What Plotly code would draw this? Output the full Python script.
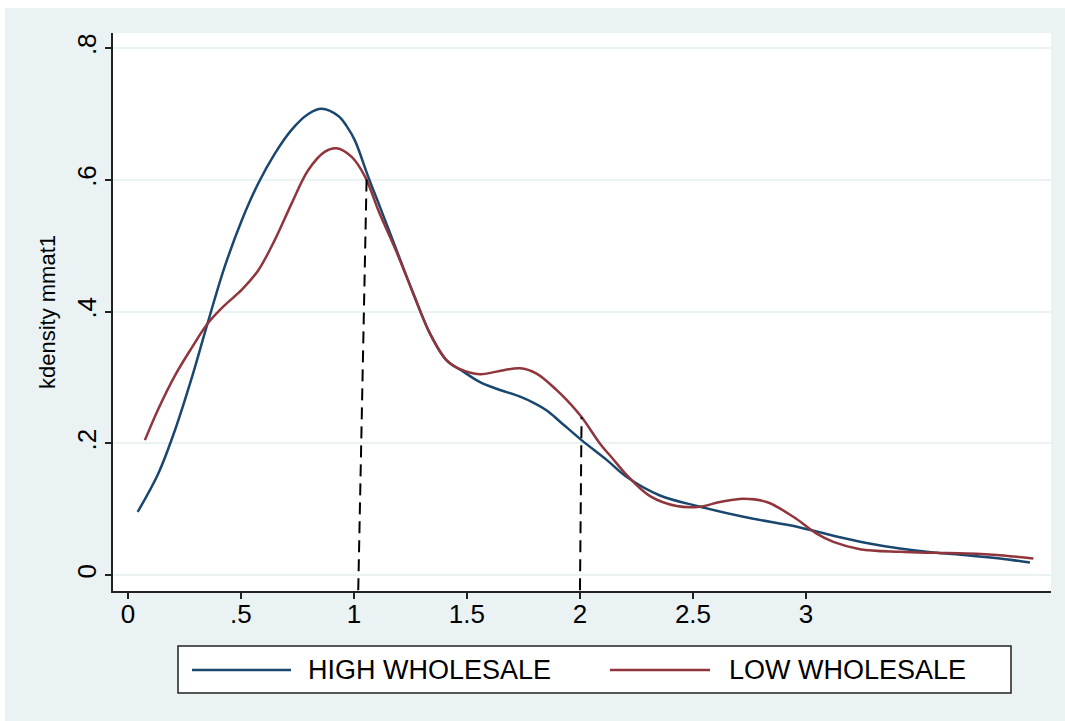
import plotly.graph_objects as go

# ---- data ----
high_x = [0.043, 0.134, 0.208, 0.282, 0.353, 0.429, 0.503, 0.577, 0.650, 0.724,
          0.798, 0.857, 0.931, 0.967, 1.004, 1.063, 1.115, 1.189, 1.262, 1.336, 1.410,
          1.484, 1.558, 1.631, 1.735, 1.793, 1.853, 1.912, 2.007, 2.118, 2.207, 2.354,
          2.531, 2.723, 2.973, 3.121, 3.268, 3.416, 3.563, 3.711, 3.858, 3.991]
high_y = [0.096, 0.154, 0.220, 0.299, 0.383, 0.469, 0.538, 0.595, 0.640, 0.676,
          0.700, 0.708, 0.697, 0.682, 0.660, 0.605, 0.559, 0.493, 0.428, 0.367, 0.326,
          0.309, 0.293, 0.283, 0.271, 0.262, 0.250, 0.233, 0.205, 0.175, 0.149, 0.121,
          0.104, 0.0886, 0.0725, 0.0600, 0.0490, 0.0405, 0.0344, 0.0304, 0.0253, 0.0192]

low_x = [0.075, 0.134, 0.208, 0.282, 0.353, 0.429, 0.503, 0.577, 0.650, 0.724,
         0.798, 0.872, 0.923, 0.990, 1.049, 1.110, 1.189, 1.262, 1.336, 1.410,
         1.462, 1.558, 1.631, 1.735, 1.808, 1.897, 1.941, 2.007, 2.088, 2.147,
         2.207, 2.310, 2.428, 2.531, 2.619, 2.723, 2.826, 2.944, 3.047, 3.121,
         3.239, 3.416, 3.563, 3.711, 3.858, 4.006]
low_y = [0.205, 0.252, 0.303, 0.345, 0.382, 0.410, 0.433, 0.463, 0.509, 0.564,
         0.615, 0.643, 0.648, 0.635, 0.605, 0.552, 0.490, 0.428, 0.367, 0.326,
         0.314, 0.305, 0.309, 0.314, 0.306, 0.281, 0.266, 0.240, 0.200, 0.176,
         0.152, 0.120, 0.105, 0.104, 0.111, 0.116, 0.111, 0.0886, 0.063, 0.0506,
         0.0395, 0.0354, 0.0339, 0.0329, 0.0304, 0.0253]

drop1_x = [1.019, 1.056]
drop1_y = [-0.023, 0.602]
drop2_x = [2.000, 2.007]
drop2_y = [-0.023, 0.240]

x_ticks = [0, 0.5, 1, 1.5, 2, 2.5, 3]
x_labels = ["0", ".5", "1", "1.5", "2", "2.5", "3"]
y_ticks = [0, 0.2, 0.4, 0.6, 0.8]
y_labels = ["0", ".2", ".4", ".6", ".8"]

series_names = ["HIGH WHOLESALE", "LOW WHOLESALE"]
y_title = "kdensity mmat1"

NAVY = "#1A476F"
MAROON = "#90353B"
BG = "#EAF2F3"
FONT = "Liberation Sans, Arial, sans-serif"

fig = go.Figure()
fig.add_trace(go.Scatter(x=high_x, y=high_y, mode="lines", name=series_names[0],
                         line=dict(color=NAVY, width=2.5, shape="spline", smoothing=1.0),
                         showlegend=False))
fig.add_trace(go.Scatter(x=low_x, y=low_y, mode="lines", name=series_names[1],
                         line=dict(color=MAROON, width=2.5, shape="spline", smoothing=1.0),
                         showlegend=False))
for dx, dy in [(drop1_x, drop1_y), (drop2_x, drop2_y)]:
    fig.add_trace(go.Scatter(x=dx, y=dy, mode="lines", showlegend=False,
                             line=dict(color="black", width=2, dash="12px,7px")))

# geometry helpers (pixel -> paper)
L, R, T, B = 113, 14, 33, 130
W, H = 1065, 721
PW, PH = W - L - R, H - T - B


def px(xp):
    return (xp - L) / PW


def py(yp):
    return (H - B - yp) / PH


shapes = [
    # white page strips outside the graph region
    dict(type="rect", xref="paper", yref="paper", x0=px(-5), x1=px(W + 5), y0=py(8), y1=py(-5),
         fillcolor="white", line=dict(width=0), layer="below"),
    dict(type="rect", xref="paper", yref="paper", x0=px(-5), x1=px(5), y0=py(H + 5), y1=py(-5),
         fillcolor="white", line=dict(width=0), layer="below"),
    # legend box
    dict(type="rect", xref="paper", yref="paper", x0=px(178), x1=px(1011), y0=py(693), y1=py(646),
         fillcolor="white", line=dict(color="#222", width=1.5)),
    dict(type="line", xref="paper", yref="paper", x0=px(192), x1=px(291), y0=py(670), y1=py(670),
         line=dict(color=NAVY, width=2.5)),
    dict(type="line", xref="paper", yref="paper", x0=px(610), x1=px(710), y0=py(670), y1=py(670),
         line=dict(color=MAROON, width=2.5)),
]

annotations = [
    dict(xref="paper", yref="paper", x=px(306), y=py(670), text=series_names[0],
         showarrow=False, xanchor="left", yanchor="middle",
         font=dict(family=FONT, size=27, color="black")),
    dict(xref="paper", yref="paper", x=px(727), y=py(670), text=series_names[1],
         showarrow=False, xanchor="left", yanchor="middle",
         font=dict(family=FONT, size=27, color="black")),
]

fig.update_layout(
    width=W, height=H,
    margin=dict(l=L, r=R, t=T, b=B),
    paper_bgcolor=BG, plot_bgcolor="white",
    font=dict(family=FONT, size=25, color="black"),
    shapes=shapes, annotations=annotations,
    showlegend=False,
)
fig.update_xaxes(range=[-0.066, 4.084], tickvals=x_ticks, ticktext=x_labels,
                 showgrid=False, zeroline=False, showline=True, linecolor="#222", linewidth=1.5,
                 ticks="outside", ticklen=6, tickwidth=1.5, tickcolor="#222",
                 ticklabelstandoff=-7,
                 tickfont=dict(family=FONT, size=26, color="black"))
fig.update_yaxes(range=[-0.024, 0.823], tickvals=y_ticks, ticktext=y_labels,
                 showgrid=True, gridcolor=BG, gridwidth=2, zeroline=False,
                 showline=True, linecolor="#222", linewidth=1.5,
                 ticks="outside", ticklen=6, tickwidth=1.5, tickcolor="#222",
                 ticklabelstandoff=-1,
                 tickangle=-90, tickfont=dict(family=FONT, size=26, color="black"),
                 title=dict(text=y_title, standoff=10, font=dict(family=FONT, size=22, color="black")))

fig.write_html("out.html", config={"displayModeBar": False},
               post_script="document.body.style.margin='0';document.body.style.overflow='hidden';")
